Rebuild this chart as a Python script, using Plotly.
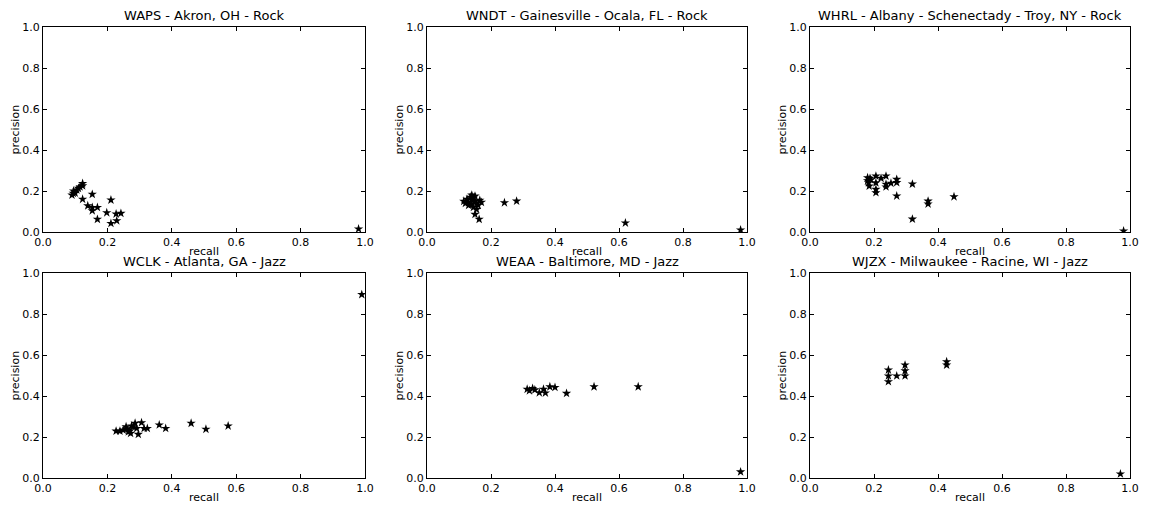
import plotly.graph_objects as go

titles = [
    "WAPS - Akron, OH - Rock",
    "WNDT - Gainesville - Ocala, FL - Rock",
    "WHRL - Albany - Schenectady - Troy, NY - Rock",
    "WCLK - Atlanta, GA - Jazz",
    "WEAA - Baltimore, MD - Jazz",
    "WJZX - Milwaukee - Racine, WI - Jazz",
]

waps_recall = [0.09, 0.094, 0.095, 0.1, 0.105, 0.11, 0.115, 0.123, 0.123, 0.123, 0.139, 0.153, 0.153,
               0.153, 0.169, 0.169, 0.198, 0.211, 0.211, 0.227, 0.229, 0.242, 0.98]
waps_precision = [0.18, 0.189, 0.2, 0.19, 0.205, 0.213, 0.22, 0.237, 0.225, 0.16, 0.128, 0.184, 0.104,
                  0.12, 0.12, 0.062, 0.094, 0.156, 0.042, 0.088, 0.055, 0.091, 0.015]

wndt_recall = [0.115, 0.12, 0.125, 0.13, 0.13, 0.135, 0.14, 0.14, 0.145, 0.145, 0.15, 0.15, 0.155,
               0.16, 0.165, 0.17, 0.14, 0.155, 0.15, 0.163, 0.242, 0.28, 0.62, 0.98]
wndt_precision = [0.15, 0.14, 0.16, 0.145, 0.13, 0.17, 0.155, 0.135, 0.165, 0.12, 0.15, 0.175, 0.14,
                  0.13, 0.155, 0.145, 0.18, 0.11, 0.086, 0.062, 0.143, 0.151, 0.044, 0.01]

whrl_recall = [0.18, 0.18, 0.183, 0.185, 0.1875, 0.19, 0.206, 0.206, 0.206, 0.206, 0.222, 0.2375,
               0.2375, 0.2375, 0.253, 0.271, 0.271, 0.271, 0.32, 0.32, 0.369, 0.369, 0.45, 0.98]
whrl_precision = [0.25, 0.265, 0.24, 0.224, 0.262, 0.255, 0.273, 0.24, 0.208, 0.192, 0.262, 0.273,
                  0.233, 0.22, 0.238, 0.257, 0.241, 0.176, 0.234, 0.063, 0.151, 0.137, 0.172, 0.005]

wclk_recall = [0.227, 0.239, 0.249, 0.258, 0.26, 0.265, 0.27, 0.272, 0.275, 0.28, 0.286, 0.291,
               0.296, 0.306, 0.314, 0.324, 0.361, 0.381, 0.46, 0.506, 0.575, 0.99]
wclk_precision = [0.229, 0.229, 0.234, 0.25, 0.24, 0.226, 0.23, 0.218, 0.254, 0.25, 0.267, 0.242,
                  0.213, 0.27, 0.242, 0.242, 0.259, 0.242, 0.267, 0.238, 0.254, 0.895]

weaa_recall = [0.313, 0.32, 0.33, 0.337, 0.351, 0.364, 0.37, 0.384, 0.4, 0.436, 0.522, 0.66, 0.98]
weaa_precision = [0.433, 0.426, 0.437, 0.43, 0.416, 0.433, 0.415, 0.445, 0.442, 0.413, 0.445, 0.445, 0.03]

wjzx_recall = [0.245, 0.245, 0.245, 0.271, 0.297, 0.297, 0.297, 0.427, 0.427, 0.97]
wjzx_precision = [0.527, 0.498, 0.47, 0.498, 0.551, 0.523, 0.498, 0.567, 0.551, 0.02]

series = [
    (waps_recall, waps_precision),
    (wndt_recall, wndt_precision),
    (whrl_recall, whrl_precision),
    (wclk_recall, wclk_precision),
    (weaa_recall, weaa_precision),
    (wjzx_recall, wjzx_precision),
]

# page body has an 8px margin: the figure is drawn 8px right/down of the window corner
OFF = 8
W, H = 1149 - OFF, 505 - OFF
xdoms_px = [(43 - OFF, 365 - OFF), (427 - OFF, 747 - OFF), (810 - OFF, 1130 - OFF)]
ydoms_px = [(27 - OFF, 232 - OFF), (273 - OFF, 478 - OFF)]
ticks = [0.0, 0.2, 0.4, 0.6, 0.8, 1.0]
ticktext = ["0.0", "0.2", "0.4", "0.6", "0.8", "1.0"]
FONT = "DejaVu Sans"

fig = go.Figure()
annotations = []
for i, (xs, ys) in enumerate(series):
    r, c = divmod(i, 3)
    n = "" if i == 0 else str(i + 1)
    x0, x1 = xdoms_px[c]
    yt, yb = ydoms_px[r]
    fig.add_trace(go.Scatter(
        x=xs, y=ys, mode="markers",
        marker=dict(symbol="star", size=7, color="black", line=dict(width=0)),
        xaxis="x" + n, yaxis="y" + n, showlegend=False,
    ))
    axstyle = dict(range=[0, 1], tickvals=ticks, ticktext=ticktext, ticks="inside",
                   ticklen=4, tickcolor="black", showline=True, linecolor="black",
                   linewidth=1, mirror="ticks", showgrid=False, zeroline=False,
                   automargin=False,
                   tickfont=dict(family=FONT, size=11, color="black"))
    fig.update_layout(**{
        "xaxis" + n: dict(axstyle, domain=[x0 / W, x1 / W], anchor="y" + n),
        "yaxis" + n: dict(axstyle, domain=[1 - yb / H, 1 - yt / H], anchor="x" + n),
    })
    xc = (x0 + x1) / 2 / W
    annotations.append(dict(text=titles[i], x=xc, y=1 - (yt - 3) / H, xref="paper", yref="paper",
                            xanchor="center", yanchor="bottom", showarrow=False, borderpad=0,
                            font=dict(family=FONT, size=13, color="black")))
    annotations.append(dict(text="recall", x=xc, y=1 - (yb + 11) / H, xref="paper", yref="paper",
                            xanchor="center", yanchor="top", showarrow=False,
                            font=dict(family=FONT, size=11, color="black")))
    annotations.append(dict(text="precision", x=(x0 - 28) / W, y=1 - (yt + yb) / 2 / H,
                            xref="paper", yref="paper", xanchor="center", yanchor="middle",
                            textangle=-90, showarrow=False,
                            font=dict(family=FONT, size=11, color="black")))

fig.update_layout(width=W, height=H, margin=dict(l=0, r=0, t=0, b=0, pad=0),
                  paper_bgcolor="white", plot_bgcolor="white",
                  annotations=annotations, font=dict(family=FONT))
fig.write_html("out.html")
